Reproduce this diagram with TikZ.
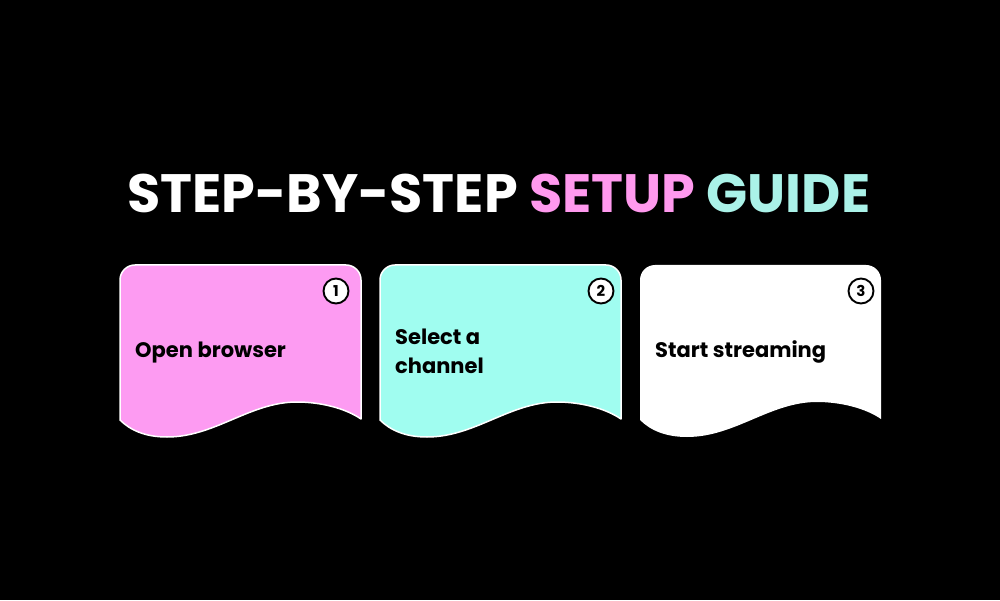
\documentclass[tikz,border=0pt]{standalone}
\usepackage{fontspec}
\setmainfont{Poppins}
\definecolor{bg}{HTML}{000000}
\definecolor{cardpink}{HTML}{FD9BF2}
\definecolor{cardcyan}{HTML}{A0FDF0}
\definecolor{titlepink}{HTML}{FF99EE}
\definecolor{titlecyan}{HTML}{AAF2E8}
\tikzset{
  cardshape/.style={draw=white, line width=1.5pt, line join=round},
  numcirc/.style={circle, draw=black, line width=1.9pt, fill=white, minimum size=25pt, inner sep=0pt,
    font=\bfseries\fontsize{15}{15}\selectfont, text=black},
  cardtext/.style={inner sep=0pt, text=black, align=left,
    font=\bfseries\fontsize{21}{29}\selectfont},
  titletext/.style={inner sep=0pt, font=\bfseries\fontsize{54}{54}\selectfont}
}
\newcommand{\cardpath}[1]{%
  (#1+0,180) -- (#1+0,320) arc[start angle=180,end angle=90,radius=15]
  -- (#1+226,335) arc[start angle=90,end angle=0,radius=15]
  -- (#1+241,181)
  .. controls (#1+225,192) and (#1+200,198) .. (#1+177,198)
  .. controls (#1+130,198) and (#1+95,163) .. (#1+47,163)
  .. controls (#1+25,163) and (#1+10,170) .. (#1+0,180) -- cycle}
\begin{document}
\begin{tikzpicture}[x=1pt,y=1pt]
\useasboundingbox (0,0) rectangle (1000,600);
\fill[bg] (0,0) rectangle (1000,600);
% title
\node[titletext, anchor=base west] (title) at (127,387.3)
  {\color{white}STEP-BY-STEP \color{titlepink}SETUP \color{titlecyan}GUIDE};
% cards
\path[cardshape, fill=cardpink] \cardpath{120};
\path[cardshape, fill=cardcyan] \cardpath{380};
\path[fill=white] \cardpath{640};
% numbers
\node[numcirc] (n1) at (336,309) {1};
\node[numcirc] (n2) at (601,309) {2};
\node[numcirc] (n3) at (861,309) {3};
% texts
\node[cardtext, anchor=base west] (t1) at (135,242.3) {Open browser};
\node[cardtext, anchor=west] (t2) at (395,248.6) {Select a\\channel};
\node[cardtext, anchor=base west] (t3) at (655,242.3) {Start streaming};
\end{tikzpicture}
\end{document}
